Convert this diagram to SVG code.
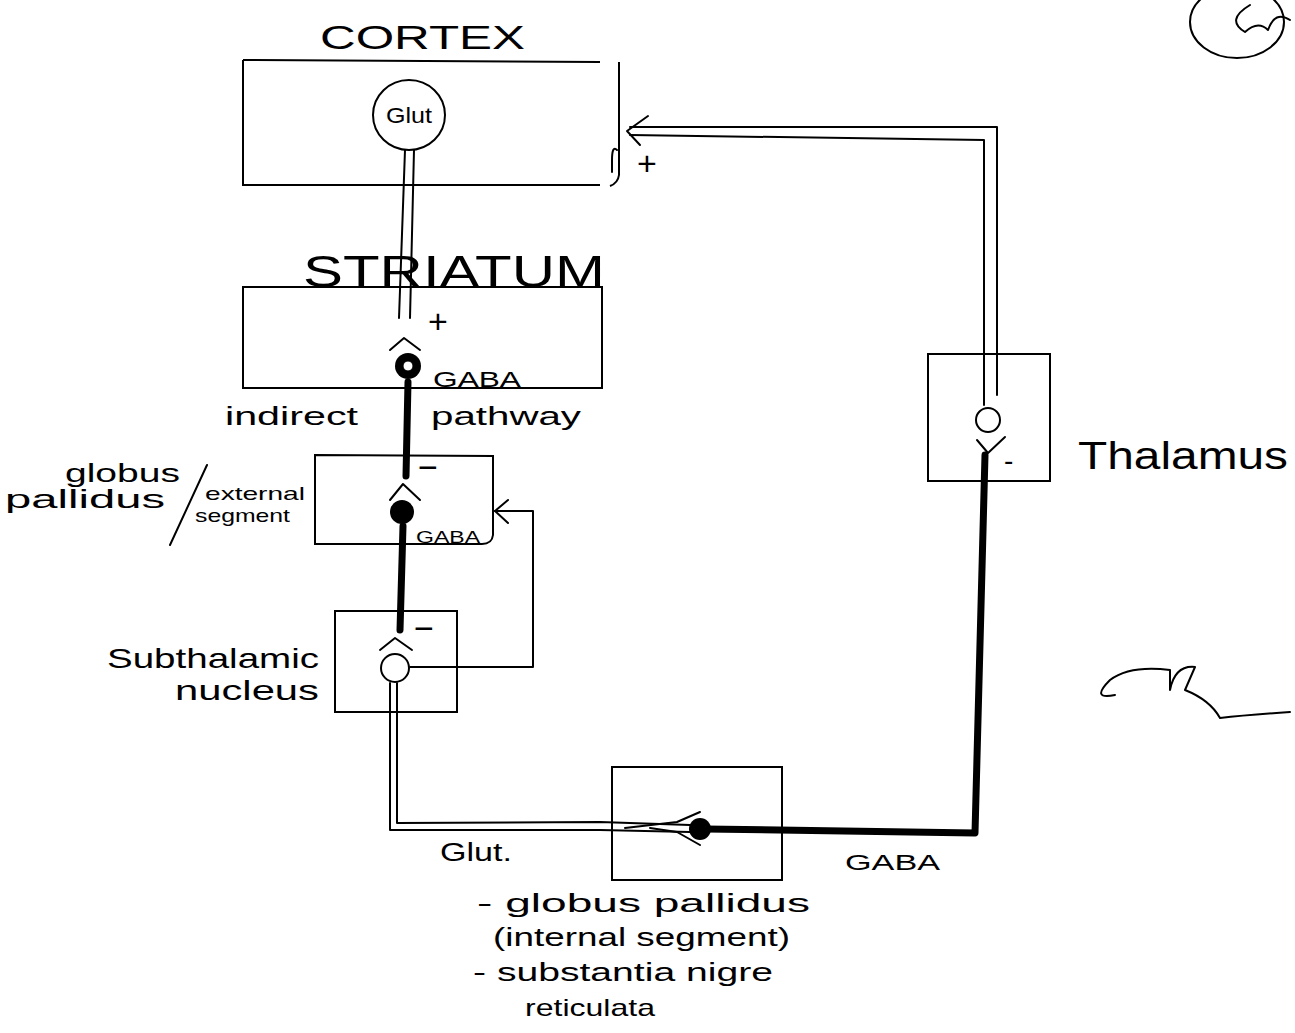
<svg xmlns="http://www.w3.org/2000/svg" width="1295" height="1033" viewBox="0 0 1295 1033">
<style>
.box{fill:none;stroke:#000;stroke-width:2}
.ln{fill:none;stroke:#000;stroke-width:2;stroke-linecap:round;stroke-linejoin:round}
.thick{fill:none;stroke:#000;stroke-width:7;stroke-linecap:round;stroke-linejoin:round}
.t{font-family:"Liberation Sans",Arial,sans-serif;fill:#000}
</style>
<rect width="1295" height="1033" fill="#fff"/>

<g id="connectors">
  <path class="ln" d="M405 150 L399 318 M414 150 L410 318"/>
  <path class="thick" d="M408 382 L406 476"/>
  <path class="thick" d="M403 526 L400 630"/>
  <path class="ln" d="M410 667 L533 667 L533 511 L495 511"/>
  <path class="ln" d="M508 500 L495 511 L508 523"/>
  <path class="ln" d="M390 683 L390 830 L600 830 L690 832 M397 683 L397 823 L600 822 L690 825"/>
  <path class="ln" d="M625 828 L677 822 L700 812 M650 828 L677 832 L700 845"/>
  <path class="thick" d="M705 829 L975 833 L985 455"/>
  <path class="ln" d="M984 405 L984 140 L630 135 M997 395 L997 127 L630 127"/>
  <path class="ln" d="M648 116 L627 131 L640 145"/>
</g>

<g id="cortex">
  <path class="box" d="M243 60 L600 62 M243 60 L243 185 L600 185 M619 62 L619 175 Q618 183 610 186"/>
  <path class="ln" d="M617 150 Q612 145 612 160 L612 172"/>
  <text class="t" x="320" y="49" font-size="34" textLength="205" lengthAdjust="spacingAndGlyphs">CORTEX</text>
  <ellipse cx="409" cy="115" rx="36" ry="35" class="box"/>
  <text class="t" x="386" y="123" font-size="22" textLength="46" lengthAdjust="spacingAndGlyphs">Glut</text>
  <text class="t" x="637" y="175" font-size="34">+</text>
</g>

<g id="striatum">
  <text class="t" x="303" y="287" font-size="44" textLength="302" lengthAdjust="spacingAndGlyphs">STRIATUM</text>
  <rect class="box" x="243" y="287" width="359" height="101"/>
  <path class="ln" d="M390 350 L404 338 L420 350"/>
  <text class="t" x="428" y="333" font-size="34">+</text>
  <circle cx="408" cy="366" r="13" fill="#000"/>
  <circle cx="408" cy="366" r="5" fill="#fff" stroke="#000" stroke-width="1"/>
  <text class="t" x="433" y="387" font-size="22" textLength="88" lengthAdjust="spacingAndGlyphs">GABA</text>
  <text class="t" x="225" y="425" font-size="26" textLength="133" lengthAdjust="spacingAndGlyphs">indirect</text>
  <text class="t" x="431" y="425" font-size="26" textLength="150" lengthAdjust="spacingAndGlyphs">pathway</text>
</g>

<g id="gpe">
  <path class="box" d="M315 455 L493 456 L493 535 Q492 544 482 544 L315 544 Z"/>
  <text class="t" x="418" y="479" font-size="34">−</text>
  <path class="ln" d="M390 500 L403 484 L420 500"/>
  <circle cx="402" cy="512" r="12" fill="#000"/>
  <text class="t" x="416" y="543" font-size="16" textLength="64" lengthAdjust="spacingAndGlyphs">GABA</text>
  <text class="t" x="65" y="482" font-size="26" textLength="115" lengthAdjust="spacingAndGlyphs">globus</text>
  <text class="t" x="5" y="508" font-size="26" textLength="160" lengthAdjust="spacingAndGlyphs">pallidus</text>
  <path class="ln" d="M207 465 L170 545"/>
  <text class="t" x="205" y="500" font-size="19" textLength="100" lengthAdjust="spacingAndGlyphs">external</text>
  <text class="t" x="195" y="522" font-size="19" textLength="95" lengthAdjust="spacingAndGlyphs">segment</text>
</g>

<g id="stn">
  <rect class="box" x="335" y="611" width="122" height="101"/>
  <text class="t" x="414" y="640" font-size="34">−</text>
  <path class="ln" d="M380 650 L395 638 L412 650"/>
  <circle cx="395" cy="668" r="14" class="box" fill="#fff"/>
  <text class="t" x="107" y="668" font-size="28" textLength="212" lengthAdjust="spacingAndGlyphs">Subthalamic</text>
  <text class="t" x="175" y="700" font-size="28" textLength="144" lengthAdjust="spacingAndGlyphs">nucleus</text>
</g>

<g id="gpi">
  <rect class="box" x="612" y="767" width="170" height="113"/>
  <circle cx="700" cy="829" r="11" fill="#000"/>
  <text class="t" x="440" y="861" font-size="26" textLength="72" lengthAdjust="spacingAndGlyphs">Glut.</text>
  <text class="t" x="845" y="870" font-size="22" textLength="95" lengthAdjust="spacingAndGlyphs">GABA</text>
  <text class="t" x="477" y="912" font-size="26" textLength="333" lengthAdjust="spacingAndGlyphs">- globus  pallidus</text>
  <text class="t" x="493" y="946" font-size="26" textLength="297" lengthAdjust="spacingAndGlyphs">(internal  segment)</text>
  <text class="t" x="473" y="981" font-size="26" textLength="300" lengthAdjust="spacingAndGlyphs">- substantia  nigre</text>
  <text class="t" x="525" y="1016" font-size="24" textLength="130" lengthAdjust="spacingAndGlyphs">reticulata</text>
</g>

<g id="thalamus">
  <rect class="box" x="928" y="354" width="122" height="127"/>
  <circle cx="988" cy="420" r="12" class="box" fill="#fff"/>
  <path class="ln" d="M977 440 L988 453 L1005 437"/>
  <text class="t" x="1004" y="470" font-size="28">-</text>
  <text class="t" x="1078" y="469" font-size="38" textLength="210" lengthAdjust="spacingAndGlyphs">Thalamus</text>
</g>

<g id="marks">
  <ellipse cx="1237" cy="22" rx="47" ry="36" class="box"/>
  <path class="ln" d="M1250 5 Q1225 20 1245 32 Q1258 20 1268 30 Q1275 10 1290 20" stroke-width="3"/>
  <path class="ln" d="M1115 695 Q1090 700 1110 680 Q1130 665 1170 670 L1170 690 Q1175 665 1195 667 Q1185 690 1185 690 Q1210 700 1220 718 Q1245 715 1290 712" stroke-width="3"/>
</g>
</svg>
